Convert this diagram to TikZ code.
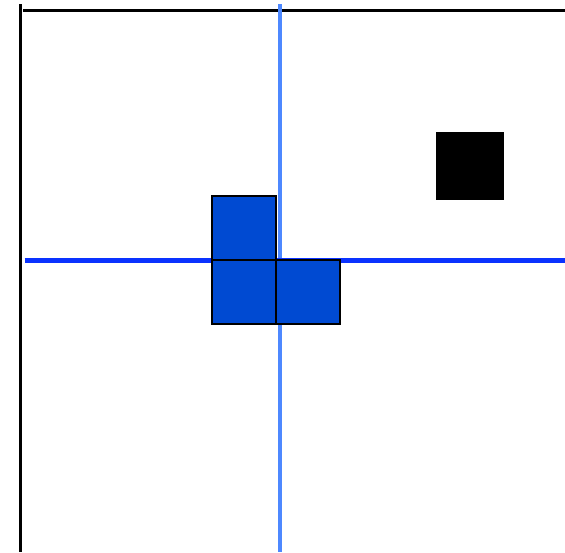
\documentclass[tikz,border=0pt]{standalone}
\definecolor{lightaxis}{RGB}{77,136,255}
\definecolor{boldaxis}{RGB}{10,50,255}
\definecolor{cellblue}{RGB}{0,74,210}
\tikzset{
  frameline/.style={black, line width=3pt},
  vaxis/.style={lightaxis, line width=3.5pt},
  haxis/.style={boldaxis, line width=5pt},
  cell/.style={draw=black, fill=cellblue, line width=2pt},
  target/.style={fill=black},
}
\begin{document}
\begin{tikzpicture}[x=1pt,y=-1pt]
\useasboundingbox[fill=white] (0,0) rectangle (565,552);
% frame
\coordinate (fl1) at (20,4);
\coordinate (fl2) at (20,552);
\coordinate (ft1) at (23,10);
\coordinate (ft2) at (565,10);
\draw[frameline] (fl1) -- (fl2);
\draw[frameline] (ft1) -- (ft2);
% axes
\coordinate (va1) at (280,4);
\coordinate (va2) at (280,552);
\coordinate (ha1) at (24.5,260.5);
\coordinate (ha2) at (565,260.5);
\draw[vaxis] (va1) -- (va2);
\draw[haxis] (ha1) -- (ha2);
% cells
\draw[cell] (212,196) rectangle (276,260);
\draw[cell] (212,260) rectangle (276,324);
\draw[cell] (276,260) rectangle (340,324);
% target
\fill[target] (436,132) rectangle (504,200);
\end{tikzpicture}
\end{document}
